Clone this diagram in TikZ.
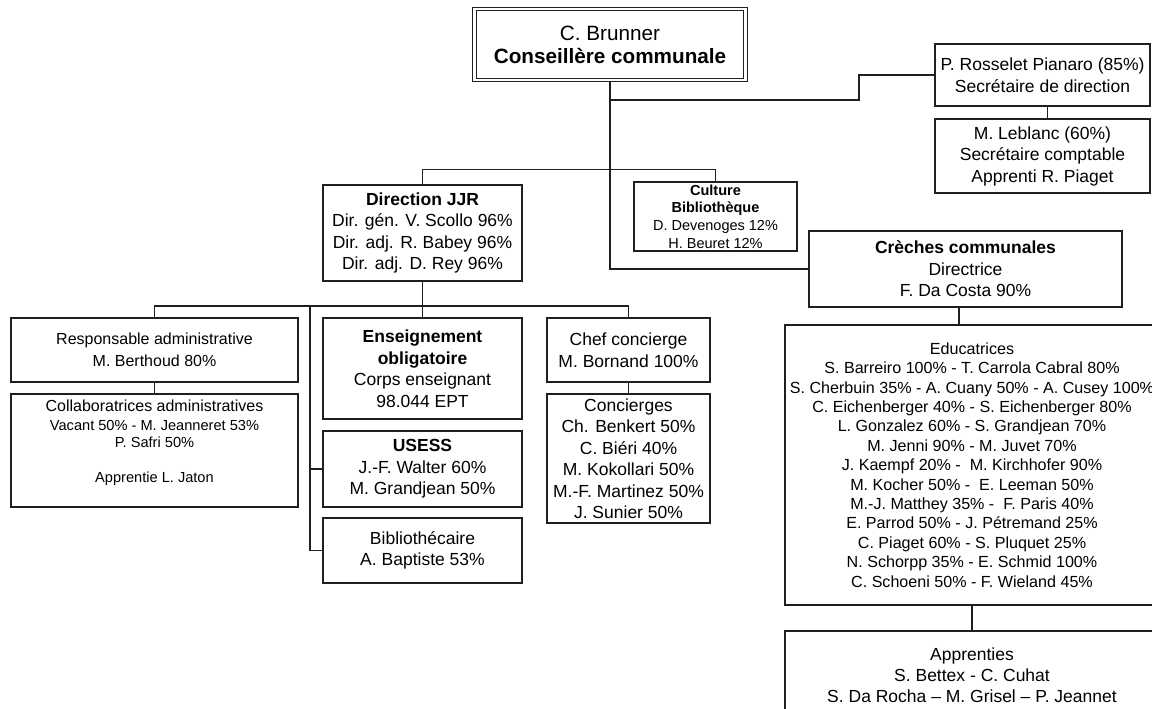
\documentclass[tikz,border=0pt]{standalone}
\usepackage{fontspec}
\setmainfont{Liberation Sans}
\begin{document}
\begin{tikzpicture}[x=1pt,y=-1pt,
  box/.style={draw=black!88, line width=1.2pt, inner sep=0pt, align=center, text=black},
  conn/.style={draw=black!88, line width=1.2pt},
  fbig/.style={font=\fontsize{20.7}{23}\selectfont},
  fmain/.style={font=\fontsize{17.5}{21.5}\selectfont},
  fmid/.style={font=\fontsize{16}{22}\selectfont},
  fedu/.style={font=\fontsize{16.1}{19.4}\selectfont},
  fsmall/.style={font=\fontsize{14.5}{17.7}\selectfont},
  fcollab/.style={font=\fontsize{14.6}{17}\selectfont},
]
\useasboundingbox (0,0) rectangle (1152,709);
\clip (0,0) rectangle (1152,709);
\fill[white] (0,0) rectangle (1152,709);

% head of the department
\node[box, fbig, double, double distance=2.2pt, minimum width=271, minimum height=71] (brunner) at (610,44.5)
  {C. Brunner\\\textbf{Conseillère communale}};

% secretariat
\node[box, fmain, minimum width=215, minimum height=62] (rosselet) at (1042.5,75)
  {P. Rosselet Pianaro (85\%)\\Secrétaire de direction};
\node[box, fmain, minimum width=215, minimum height=74] (leblanc) at (1042.5,156)
  {M. Leblanc (60\%)\\Secrétaire comptable\\Apprenti R. Piaget};

% second level
\node[box, fmain, minimum width=199, minimum height=96] (dir) at (422.5,233)
  {\textbf{Direction JJR}\\Dir. gén. V. Scollo 96\%\\Dir. adj. R. Babey 96\%\\Dir. adj. D. Rey 96\%};
\node[box, fsmall, minimum width=163, minimum height=69] (culture) at (715.5,216.5)
  {\textbf{Culture}\\\textbf{Bibliothèque}\\D. Devenoges 12\%\\H. Beuret 12\%};
\node[box, fmain, minimum width=313, minimum height=76] (creches) at (965.5,269)
  {\textbf{Crèches communales}\\Directrice\\F. Da Costa 90\%};

% school services
\node[box, fmid, minimum width=287, minimum height=64] (resp) at (154.5,350)
  {Responsable administrative\\M. Berthoud 80\%};
\node[box, minimum width=287, minimum height=113] (collab) at (154.5,450.5) {};
\node[fcollab, align=center, inner sep=0pt, anchor=north] (collabtxt) at (154.5,400)
  {{\fontsize{16}{19}\selectfont Collaboratrices administratives}\\[2pt]
   Vacant 50\% - M. Jeanneret 53\%\\
   P. Safri 50\%\\[18pt]
   Apprentie L. Jaton};
\node[box, fmain, minimum width=199, minimum height=101] (ens) at (422.5,368.5)
  {\textbf{Enseignement}\\\textbf{obligatoire}\\Corps enseignant\\98.044 EPT};
\node[box, fmain, minimum width=199, minimum height=76] (usess) at (422.5,469)
  {\textbf{USESS}\\J.-F. Walter 60\%\\M. Grandjean 50\%};
\node[box, fmain, minimum width=199, minimum height=65] (biblio) at (422.5,550.5)
  {Bibliothécaire\\A. Baptiste 53\%};
\node[box, fmain, minimum width=163, minimum height=64] (chef) at (628.5,350)
  {Chef concierge\\M. Bornand 100\%};
\node[box, fmain, minimum width=163, minimum height=129] (conc) at (628.5,458.5)
  {Concierges\\Ch. Benkert 50\%\\C. Biéri 40\%\\M. Kokollari 50\%\\M.-F. Martinez 50\%\\J. Sunier 50\%};

% day-care staff
\node[box, fedu, minimum width=374, minimum height=280] (edu) at (972,465)
  {Educatrices\\
   S. Barreiro 100\% - T. Carrola Cabral 80\%\\
   S. Cherbuin 35\% - A. Cuany 50\% - A. Cusey 100\%\\
   C. Eichenberger 40\% - S. Eichenberger 80\%\\
   L. Gonzalez 60\% - S. Grandjean 70\%\\
   M. Jenni 90\% - M. Juvet 70\%\\
   J. Kaempf 20\% -~ M. Kirchhofer 90\%\\
   M. Kocher 50\% -~ E. Leeman 50\%\\
   M.-J. Matthey 35\% -~ F. Paris 40\%\\
   E. Parrod 50\% - J. Pétremand 25\%\\
   C. Piaget 60\% - S. Pluquet 25\%\\
   N. Schorpp 35\% - E. Schmid 100\%\\
   C. Schoeni 50\% - F. Wieland 45\%};
\node[box, fmain, font=\fontsize{17.5}{21}\selectfont, minimum width=374, minimum height=89] (appr) at (972,675.5)
  {Apprenties\\S. Bettex - C. Cuhat\\S. Da Rocha – M. Grisel – P. Jeannet};

% connectors
\coordinate (j1) at (610,100);
\coordinate (bend) at (859,100);
\coordinate (bus) at (422.5,306);
\coordinate (lv) at (310,306);
\draw[conn] (brunner.south) |- (creches.west);
\draw[conn] (j1) -- (bend) |- (rosselet.west);
\draw[conn] ([xshift=5pt]rosselet.south) -- ([xshift=5pt]leblanc.north);
\draw[conn] (dir.north) -- ++(0,-15) -| (culture.north);
\draw[conn] ([xshift=-6.5pt]creches.south) -- ([xshift=-6.5pt]creches.south |- edu.north);
\draw[conn] (edu.south) -- (appr.north);
\draw[conn] (dir.south) -- (bus);
\draw[conn] (resp.north) |- (bus) -| (chef.north);
\draw[conn] (bus) -- (ens.north);
\draw[conn] (lv) |- (usess.west);
\draw[conn] (lv) |- (biblio.west);
\draw[conn] (resp.south) -- (collab.north);
\draw[conn] (chef.south) -- (conc.north);
\end{tikzpicture}
\end{document}
